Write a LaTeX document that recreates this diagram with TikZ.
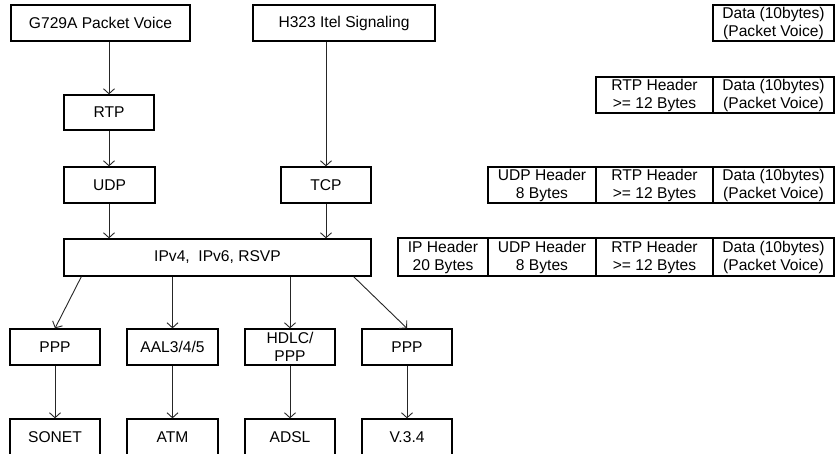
\documentclass[tikz,border=0pt]{standalone}
\usepackage{fontspec}
\setmainfont{Liberation Sans}
\usetikzlibrary{arrows.meta}
\begin{document}
\begin{tikzpicture}[x=1pt,y=-1pt,
  box/.style={draw, line width=1.3pt, inner sep=0pt, minimum height=36pt,
    font=\fontsize{15.6}{18.5}\selectfont, align=center},
  cell/.style={draw, line width=1.1pt, inner sep=0pt, minimum height=36pt,
    font=\fontsize{15.6}{18}\selectfont, align=center},
  arr/.style={draw=black!85, line width=0.9pt, -{Straight Barb[length=5pt,width=11pt]}}]
\useasboundingbox (0,0) rectangle (835,454);
\clip (0,0) rectangle (835,454);
% left stack
\node[box, minimum width=179pt] (g729) at (100.5,23) {G729A Packet Voice};
\node[box, minimum width=182pt] (h323) at (344,23) {H323 Itel Signaling};
\node[box, minimum width=90pt, minimum height=35pt] (rtp) at (109,112.5) {RTP};
\node[box, minimum width=91pt] (udp) at (109.5,185) {UDP};
\node[box, minimum width=90pt] (tcp) at (326,185) {TCP};
\node[box, minimum width=307pt, minimum height=37pt] (ip) at (217.5,257.5) {IPv4,\ \ IPv6, RSVP};
\node[box, minimum width=90pt] (ppp1) at (55,347) {PPP};
\node[box, minimum width=91pt] (aal) at (172.5,347) {AAL3/4/5};
\node[box, minimum width=90pt] (hdlc) at (290,347) {HDLC/\\PPP};
\node[box, minimum width=90pt] (ppp2) at (407,347) {PPP};
\node[box, minimum width=90pt, minimum height=40pt] (sonet) at (55,439) {};
\node[box, minimum width=91pt, minimum height=40pt] (atm) at (172.5,439) {};
\node[box, minimum width=90pt, minimum height=40pt] (adsl) at (290,439) {};
\node[box, minimum width=90pt, minimum height=40pt] (v34) at (407,439) {};
\node[font=\fontsize{15.6}{18}\selectfont] (sonett) at (55,437) {SONET};
\node[font=\fontsize{15.6}{18}\selectfont] (atmt) at (172.5,437) {ATM};
\node[font=\fontsize{15.6}{18}\selectfont] (adslt) at (290,437) {ADSL};
\node[font=\fontsize{15.6}{18}\selectfont] (v34t) at (407,437) {V.3.4};
% connectors
\draw[arr] (g729.south -| rtp.north) -- (rtp.north);
\draw[arr] (rtp.south) -- (udp.north -| rtp.south);
\draw[arr] (udp.south -| rtp.south) -- (ip.north -| rtp.south);
\draw[arr] (h323.south -| tcp.north) -- (tcp.north);
\draw[arr] (tcp.south) -- (ip.north -| tcp.south);
\coordinate (ipl) at ([xshift=18pt]ip.south west);
\coordinate (ipr) at ([xshift=-18pt]ip.south east);
\draw[arr] (ipl) -- (ppp1.north);
\draw[arr] (ip.south -| aal.north) -- (aal.north);
\draw[arr] (ip.south -| hdlc.north) -- (hdlc.north);
\draw[arr] (ipr) -- (ppp2.north);
\draw[arr] (ppp1.south) -- (sonet.north);
\draw[arr] (aal.south) -- (atm.north);
\draw[arr] (hdlc.south) -- (adsl.north);
\draw[arr] (ppp2.south) -- (v34.north);
% packet formats
\node[cell, minimum width=121pt] (d1) at (773.5,23) {Data (10bytes)\\(Packet Voice)};
\node[cell, minimum width=117pt] (r2) at (654.5,95) {RTP Header\\>= 12 Bytes};
\node[cell, minimum width=121pt] (d2) at (773.5,95) {Data (10bytes)\\(Packet Voice)};
\node[cell, minimum width=108pt] (u3) at (542,185) {UDP Header\\8 Bytes};
\node[cell, minimum width=117pt] (r3) at (654.5,185) {RTP Header\\>= 12 Bytes};
\node[cell, minimum width=121pt] (d3) at (773.5,185) {Data (10bytes)\\(Packet Voice)};
\node[cell, minimum width=90pt, minimum height=38pt] (i4) at (443,257) {IP Header\\20 Bytes};
\node[cell, minimum width=108pt, minimum height=38pt] (u4) at (542,257) {UDP Header\\8 Bytes};
\node[cell, minimum width=117pt, minimum height=38pt] (r4) at (654.5,257) {RTP Header\\>= 12 Bytes};
\node[cell, minimum width=121pt, minimum height=38pt] (d4) at (773.5,257) {Data (10bytes)\\(Packet Voice)};
\end{tikzpicture}
\end{document}
